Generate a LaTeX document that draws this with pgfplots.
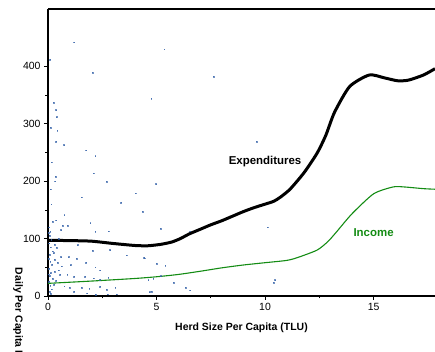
\documentclass[border=0pt]{standalone}
\usepackage{pgfplots}
\pgfplotsset{compat=1.18}
\usepackage{fontspec}
\setmainfont{Liberation Sans}
\definecolor{dotblue}{RGB}{55,100,170}
\definecolor{incgreen}{RGB}{20,140,20}
\begin{document}
\begin{tikzpicture}
\begin{axis}[
  scale only axis, width=387bp, height=287bp,
  xmin=0, xmax=17.83, ymin=0, ymax=500,
  axis lines=left, axis line style={-, line width=1.1pt},
  xtick={0,5,10,15}, ytick={0,100,200,300,400},
  minor x tick num=1, minor y tick num=1,
  tick align=outside,
  major tick length=4bp, minor tick length=2.5bp,
  tick style={black, line width=0.6pt},
  tick label style={font=\fontsize{10.5}{12}\selectfont},
  /pgf/number format/assume math mode=true,
  xlabel={\bfseries Herd Size Per Capita (TLU)},
  xlabel style={font=\fontsize{10.5}{12}\selectfont, at={(axis description cs:0.5,0)}, yshift=-23bp, anchor=north},
  clip=false,
]
\addplot[only marks, mark=square*, mark size=0.4pt, dotblue, opacity=0.7] coordinates {
(1.2,442)(2.06,389)(0.09,412)(0.25,337)(0.37,324)(0.4,312)(0.12,293)(0.42,288)
(0.37,269)(0.74,263)(1.75,254)(2.17,244)(0.17,233)(2.09,214)(0.35,208)(0.32,200)
(2.7,199)(0.12,186)(4.04,179)(1.55,172)(3.36,163)(0.15,160)(4.35,147)(0.75,141)
(0.37,132)(1.94,127)(0.66,123)(0.9,123)(2.17,112)(2.78,113)(0.6,115)
(1.37,89)(2.06,79)(2.86,80)(3.63,71)(4.42,67)(0.94,68)(1.32,65)(0.6,68)(0.3,63)
(0.64,52)(1.03,54)(1.75,58)(2.4,45)(2.17,50)(0.3,43)(0.55,37)(0.88,37)(1.2,34)
(1.7,34)(2.1,31)(2.4,29)(2.77,32)(0.37,27)(0.75,17)(1.0,15)(1.55,15)(1.9,13)
(2.4,16)(2.7,11)(3.1,15)(1.2,8)(1.8,5)(2.2,2)(2.75,3)(3.15,3)
(5.0,56)(5.4,53)(5.78,23)(6.35,15)(6.54,10)(4.78,7.5)(4.62,28)(4.85,30)
(10.46,28)(10.4,23)(5.35,430)(7.62,382)(4.75,344)(9.62,269)(4.98,195)
(5.2,117)(6.54,113)(10.12,120)(4.44,66)(5.2,35)(4.67,7)
(0.05,120)(0.1,112)(0.08,105)(0.15,98)(0.05,92)(0.12,85)(0.2,78)(0.07,72)
(0.1,60)(0.18,55)(0.05,48)(0.13,40)(0.08,35)(0.22,30)(0.05,25)(0.1,18)
(0.16,12)(0.06,8)(0.12,4)(0.3,90)(0.25,75)(0.45,58)(0.5,45)(0.28,20)
(0.02,110)(0.03,65)(0.04,38)(0.2,130)(0.5,100)(0.4,84)
};
\addplot[black, line width=3bp, smooth, tension=0.4] coordinates {
(0,97)(1,96.5)(2,95.5)(3,91.5)(4,88)(4.6,87.5)(5.2,90)(5.7,94)(6.1,100)(6.5,108)
(7,116)(7.5,124)(8,131)(8.5,139)(9,147)(9.5,154)(10,160)(10.4,165)(10.7,172)
(11.15,186)(11.8,215)(12.4,249)(12.8,280)(13.2,320)(13.9,365)(14.8,385)
(15.5,380)(16.1,375)(16.6,376)(17.3,385)(17.83,396)
};
\addplot[incgreen, line width=1.1bp, smooth, tension=0.4] coordinates {
(0,22)(2,26)(4,30.5)(5,33.5)(6,37.5)(7,43)(8,49)(9,54)(10,58)(11,62)(11.5,67)
(12.4,80)(12.9,95)(13.3,112)(14,143)(15,178)(15.9,190)(16.4,190)(17.3,187)(17.83,186)
};
\node[font=\fontsize{11.5}{13}\bfseries] at (axis cs:10.0,235) {Expenditures};
\node[font=\fontsize{11.5}{13}\bfseries, text=incgreen] at (axis cs:15.0,110) {Income};
\node[font=\fontsize{10.5}{12}\bfseries, rotate=-90, anchor=west] at ([xshift=-30bp]axis cs:0,55) {Daily Per Capita Expenditures};
\draw[line width=1.1pt] (rel axis cs:0,1) -- (rel axis cs:1,1);
\coordinate (BL) at (rel axis cs:0,0);
\coordinate (TR) at (rel axis cs:1,1);
\end{axis}
\pgfresetboundingbox
\useasboundingbox ([shift={(-48bp,-56bp)}]BL) rectangle ([shift={(0bp,9bp)}]TR);
\end{tikzpicture}
\end{document}
